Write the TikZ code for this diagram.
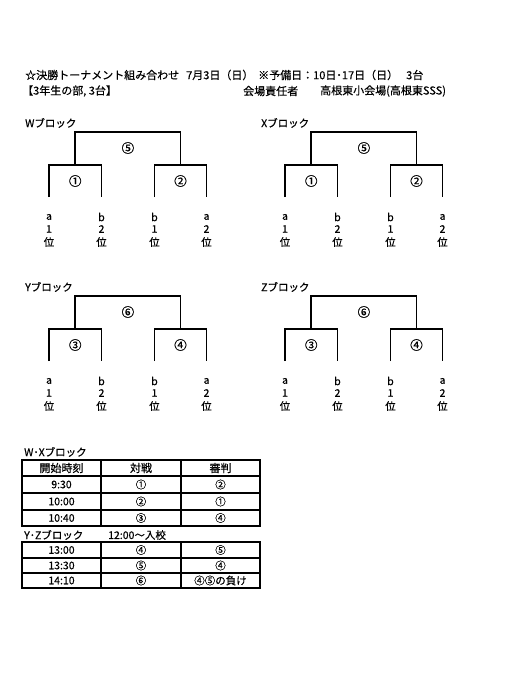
\documentclass[tikz,border=0pt]{standalone}
\usepackage{fontspec}
\setmainfont{Noto Sans CJK JP}[FakeBold=0.5]
\usetikzlibrary{positioning}

\begin{document}
\begin{tikzpicture}[x=1pt,y=-1pt,
    every node/.style={font=\fontsize{10.5}{12}\selectfont,inner sep=0pt},
    bracketline/.style={line width=1.9pt},
    gridline/.style={line width=1.7pt},
    circled/.style={font=\fontsize{12.5}{12}\selectfont},
    titletext/.style={anchor=west,font=\fontsize{11}{12}\selectfont}]
  \useasboundingbox (0,0) rectangle (529,685);

  % heading
  \node[titletext] (title1) at (25,75) {☆決勝トーナメント組み合わせ};
  \node[titletext] (date) at (186,75) {7月3日（日）};
  \node[titletext] (spare) at (258,75) {※予備日：10日･17日（日）};
  \node[titletext] (courts) at (406,75) {3台};
  \node[titletext] (grade) at (22,91) {【3年生の部, 3台】};
  \node[titletext] (chief) at (243,91) {会場責任者};
  \node[titletext] (venue) at (320,91) {高根東小会場(高根東SSS)};

  % the four blocks
  \foreach \blk/\bx/\by/\fin/\semiL/\semiR in
      {W/49/132/⑤/①/②, X/285/132/⑤/①/②, Y/49/296/⑥/③/④, Z/285/296/⑥/③/④} {
    \node[anchor=west] (\blk-name) at (\bx-24,\by-9) {\blk ブロック};
    \coordinate (\blk-l1) at (\bx,\by+65);
    \coordinate (\blk-l2) at (\bx+52.5,\by+65);
    \coordinate (\blk-l3) at (\bx+105.5,\by+65);
    \coordinate (\blk-l4) at (\bx+157.5,\by+65);
    \coordinate (\blk-j1) at (\bx+26.25,\by+33);
    \coordinate (\blk-j2) at (\bx+131.5,\by+33);
    \coordinate (\blk-top) at (\bx+78.9,\by);
    \draw[bracketline] (\blk-l1) |- (\blk-j1) -| (\blk-l2);
    \draw[bracketline] (\blk-l3) |- (\blk-j2) -| (\blk-l4);
    \draw[bracketline] (\blk-j1) |- (\blk-top) -| (\blk-j2);
    \node[circled] (\blk-f) at (\bx+78.9,\by+16) {\fin};
    \node[circled] (\blk-s1) at (\bx+26.25,\by+49) {\semiL};
    \node[circled] (\blk-s2) at (\bx+131.5,\by+49) {\semiR};
    \foreach \i/\dx/\ab/\rank in {1/0/a/1, 2/52.5/b/2, 3/105.5/b/1, 4/157.5/a/2} {
      \node (\blk-a\i) at (\bx+\dx,\by+85) {\ab};
      \node (\blk-r\i) at (\bx+\dx,\by+97) {\rank};
      \node (\blk-p\i) at (\bx+\dx,\by+110) {位};
    }
  }

  % time table W/X
  \node[anchor=west] (wxlabel) at (24,452) {W･Xブロック};
  \draw[gridline] (22,460) rectangle (260,526);
  \foreach \yy in {476,493,510} \draw[gridline] (22,\yy) -- (260,\yy);
  \foreach \xx in {101,181} \draw[gridline] (\xx,460) -- (\xx,526);
  \node[font=\fontsize{11}{12}\selectfont] (h1) at (61.5,468) {開始時刻};
  \node[font=\fontsize{11}{12}\selectfont] (h2) at (141,468) {対戦};
  \node[font=\fontsize{11}{12}\selectfont] (h3) at (220.5,468) {審判};
  \foreach \n/\yy/\tm/\vs/\rf in {1/484.5/9:30/①/②, 2/501.5/10:00/②/①, 3/518/10:40/③/④} {
    \node (wxt\n) at (61.5,\yy) {\tm};
    \node (wxv\n) at (141,\yy) {\vs};
    \node (wxr\n) at (220.5,\yy) {\rf};
  }

  % time table Y/Z
  \node[anchor=west] (yzlabel) at (24,535) {Y･Zブロック};
  \node[anchor=west] (entry) at (108,535) {12:00～入校};
  \draw[gridline] (22,542) rectangle (260,588);
  \foreach \yy in {558,573} \draw[gridline] (22,\yy) -- (260,\yy);
  \foreach \xx in {101,181} \draw[gridline] (\xx,542) -- (\xx,588);
  \foreach \n/\yy/\tm/\vs/\rf in {1/550/13:00/④/⑤, 2/565.5/13:30/⑤/④, 3/580.5/14:10/⑥/④⑤の負け} {
    \node (yzt\n) at (61.5,\yy) {\tm};
    \node (yzv\n) at (141,\yy) {\vs};
    \node (yzr\n) at (220.5,\yy) {\rf};
  }
\end{tikzpicture}
\end{document}
